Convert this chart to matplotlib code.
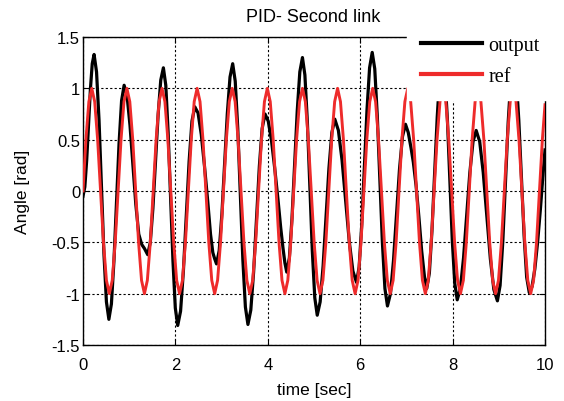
import matplotlib
matplotlib.use("Agg")
import matplotlib.pyplot as plt

# reference signal (one row per period, ~0.76 s)
t_ref = [0.0, 0.063, 0.127, 0.19, 0.253, 0.317, 0.38, 0.443, 0.507, 0.57, 0.633, 0.697,
         0.76, 0.823, 0.887, 0.95, 1.013, 1.077, 1.14, 1.203, 1.267, 1.33, 1.393, 1.457,
         1.52, 1.583, 1.647, 1.71, 1.773, 1.837, 1.9, 1.963, 2.027, 2.09, 2.153, 2.217,
         2.28, 2.343, 2.407, 2.47, 2.533, 2.597, 2.66, 2.723, 2.787, 2.85, 2.913, 2.977,
         3.04, 3.103, 3.167, 3.23, 3.293, 3.357, 3.42, 3.483, 3.547, 3.61, 3.673, 3.737,
         3.8, 3.863, 3.927, 3.99, 4.053, 4.117, 4.18, 4.243, 4.307, 4.37, 4.433, 4.497,
         4.56, 4.623, 4.687, 4.75, 4.813, 4.877, 4.94, 5.003, 5.067, 5.13, 5.193, 5.257,
         5.32, 5.383, 5.447, 5.51, 5.573, 5.637, 5.7, 5.763, 5.827, 5.89, 5.953, 6.017,
         6.08, 6.143, 6.207, 6.27, 6.333, 6.397, 6.46, 6.523, 6.587, 6.65, 6.713, 6.777,
         6.84, 6.903, 6.967, 7.03, 7.093, 7.157, 7.22, 7.283, 7.347, 7.41, 7.473, 7.537,
         7.6, 7.663, 7.727, 7.79, 7.853, 7.917, 7.98, 8.043, 8.107, 8.17, 8.233, 8.297,
         8.36, 8.423, 8.487, 8.55, 8.613, 8.677, 8.74, 8.803, 8.867, 8.93, 8.993, 9.057,
         9.12, 9.183, 9.247, 9.31, 9.373, 9.437, 9.5, 9.563, 9.627, 9.69, 9.753, 9.817,
         9.88, 9.943, 10.0]
ref = [0.0, 0.5, 0.87, 1.0, 0.87, 0.5, 0.0, -0.5, -0.87, -1.0, -0.87, -0.5,
       0.0, 0.5, 0.87, 1.0, 0.87, 0.5, 0.0, -0.5, -0.87, -1.0, -0.87, -0.5,
       0.0, 0.5, 0.87, 1.0, 0.87, 0.5, 0.0, -0.5, -0.87, -1.0, -0.87, -0.5,
       0.0, 0.5, 0.87, 1.0, 0.87, 0.5, 0.0, -0.5, -0.87, -1.0, -0.87, -0.5,
       0.0, 0.5, 0.87, 1.0, 0.87, 0.5, 0.0, -0.5, -0.87, -1.0, -0.87, -0.5,
       0.0, 0.5, 0.87, 1.0, 0.87, 0.5, 0.0, -0.5, -0.87, -1.0, -0.87, -0.5,
       0.0, 0.5, 0.87, 1.0, 0.87, 0.5, 0.0, -0.5, -0.87, -1.0, -0.87, -0.5,
       0.0, 0.5, 0.87, 1.0, 0.87, 0.5, 0.0, -0.5, -0.87, -1.0, -0.87, -0.5,
       0.0, 0.5, 0.87, 1.0, 0.87, 0.5, 0.0, -0.5, -0.87, -1.0, -0.87, -0.5,
       0.0, 0.5, 0.87, 1.0, 0.87, 0.5, 0.0, -0.5, -0.87, -1.0, -0.87, -0.5,
       0.0, 0.5, 0.87, 1.0, 0.87, 0.5, 0.0, -0.5, -0.87, -1.0, -0.87, -0.5,
       0.0, 0.5, 0.87, 1.0, 0.87, 0.5, 0.0, -0.5, -0.87, -1.0, -0.87, -0.5,
       0.0, 0.5, 0.87, 1.0, 0.87, 0.5, 0.0, -0.5, -0.87, -1.0, -0.87, -0.5,
       0.0, 0.5, 0.84]

# measured output of the second link (black curve), one row per half swing
t_out = [0.0, 0.04, 0.08, 0.12, 0.16, 0.20,
         0.24, 0.293, 0.347, 0.40, 0.453, 0.507,
         0.56, 0.615, 0.67, 0.725, 0.78, 0.835,
         0.89, 0.953, 1.017, 1.08, 1.143, 1.207, 1.27, 1.33,
         1.40, 1.457, 1.513, 1.57, 1.627, 1.683,
         1.74, 1.792, 1.843, 1.895, 1.947, 1.998,
         2.05, 2.112, 2.173, 2.235, 2.297, 2.358,
         2.42, 2.49, 2.56, 2.63, 2.70, 2.76, 2.81, 2.85,
         2.89, 2.948, 3.007, 3.065, 3.123, 3.182,
         3.24, 3.295, 3.35, 3.405, 3.46, 3.515,
         3.57, 3.632, 3.693, 3.755, 3.817, 3.878,
         3.94, 4.01, 4.08, 4.15, 4.22, 4.28, 4.33, 4.37,
         4.41, 4.467, 4.523, 4.58, 4.637, 4.693,
         4.75, 4.803, 4.857, 4.91, 4.963, 5.017,
         5.07, 5.133, 5.197, 5.26, 5.323, 5.387,
         5.45, 5.528, 5.607, 5.685, 5.763, 5.842,
         5.92, 5.977, 6.033, 6.09, 6.147, 6.203,
         6.26, 6.315, 6.37, 6.425, 6.48, 6.535,
         6.59, 6.655, 6.72, 6.785, 6.85, 6.915,
         6.98, 7.04, 7.10, 7.15, 7.21, 7.27, 7.33, 7.39,
         7.44, 7.497, 7.553, 7.61, 7.667, 7.723,
         7.78, 7.833, 7.887, 7.94, 7.993, 8.047,
         8.10, 8.168, 8.237, 8.305, 8.373, 8.442,
         8.51, 8.587, 8.663, 8.74, 8.817, 8.893,
         8.97, 9.028, 9.087, 9.145, 9.203, 9.262,
         9.32, 9.377, 9.433, 9.49, 9.547, 9.603,
         9.66, 9.72, 9.78, 9.84, 9.90, 9.95, 10.0]
out = [-0.05, 0.04, 0.30, 0.64, 0.99, 1.24,
       1.33, 1.16, 0.69, 0.04, -0.61, -1.08,
       -1.25, -1.10, -0.68, -0.11, 0.46, 0.88,
       1.03, 0.93, 0.64, 0.26, -0.13, -0.42, -0.52, -0.56,
       -0.62, -0.50, -0.17, 0.29, 0.75, 1.08,
       1.20, 1.03, 0.57, -0.06, -0.68, -1.14,
       -1.31, -1.17, -0.78, -0.25, 0.29, 0.68,
       0.82, 0.76, 0.55, 0.24, -0.10, -0.42, -0.60, -0.66,
       -0.71, -0.58, -0.22, 0.27, 0.75, 1.11,
       1.24, 1.07, 0.61, -0.03, -0.67, -1.13,
       -1.30, -1.16, -0.79, -0.28, 0.24, 0.61,
       0.75, 0.68, 0.49, 0.22, -0.08, -0.36, -0.56, -0.70,
       -0.79, -0.65, -0.27, 0.26, 0.78, 1.16,
       1.30, 1.13, 0.67, 0.05, -0.58, -1.04,
       -1.21, -1.08, -0.73, -0.26, 0.22, 0.57,
       0.70, 0.59, 0.30, -0.10, -0.49, -0.78,
       -0.89, -0.74, -0.33, 0.23, 0.79, 1.20,
       1.35, 1.19, 0.73, 0.12, -0.50, -0.95,
       -1.12, -1.00, -0.68, -0.24, 0.21, 0.53,
       0.65, 0.57, 0.42, 0.28, 0.05, -0.25, -0.58, -0.83,
       -0.95, -0.80, -0.39, 0.17, 0.72, 1.13,
       1.28, 1.12, 0.70, 0.11, -0.48, -0.90,
       -1.06, -0.95, -0.65, -0.24, 0.18, 0.48,
       0.59, 0.48, 0.18, -0.24, -0.66, -0.96,
       -1.07, -0.92, -0.49, 0.09, 0.67, 1.10,
       1.25, 1.10, 0.69, 0.13, -0.43, -0.84,
       -0.99, -0.93, -0.76, -0.50, -0.18, 0.12, 0.40]

x_ticks = [0, 2, 4, 6, 8, 10]
y_ticks = [-1.5, -1, -0.5, 0, 0.5, 1, 1.5]
y_tick_labels = ["-1.5", "-1", "-0.5", "0", "0.5", "1", "1.5"]

W, H = 564, 402
fig = plt.figure(figsize=(W / 100, H / 100), dpi=100)
ax = fig.add_axes([83 / W, 56 / H, 462 / W, 308 / H])

sans = "Liberation Sans"
serif = "Liberation Serif"

ax.plot(t_out, out, color="black", lw=2.3, label="output", zorder=3)
ax.plot(t_ref, ref, color="#ee2b2b", lw=2.1, label="ref", zorder=4)

ax.set_xlim(0, 10)
ax.set_ylim(-1.5, 1.5)
ax.set_xticks(x_ticks)
ax.set_xticklabels([str(v) for v in x_ticks], fontfamily=sans, fontsize=12)
ax.set_yticks(y_ticks)
ax.set_yticklabels(y_tick_labels, fontfamily=sans, fontsize=12)
ax.tick_params(direction="in", length=4, width=0.8, top=True, right=True)
ax.tick_params(axis="x", pad=9)
ax.tick_params(axis="y", pad=2)

ax.grid(True, color="black", linestyle=(0, (2, 2)), linewidth=0.8)
for s in ax.spines.values():
    s.set_linewidth(1.0)

ax.set_xlabel("time [sec]", fontfamily=sans, fontsize=12.5, labelpad=7)
ax.set_ylabel("Angle [rad]", fontfamily=sans, fontsize=12.5, labelpad=16)
fig.text(313 / W, 1 - 17 / H, "PID- Second link", fontfamily=sans,
         fontsize=13, ha="center", va="center")

leg = ax.legend(loc="upper left", bbox_to_anchor=(407 / W, 1 - 23 / H),
                bbox_transform=fig.transFigure, borderaxespad=0,
                prop={"family": serif, "size": 14.5},
                handlelength=3.0, handletextpad=0.35, labelspacing=0.6,
                borderpad=0.7, fancybox=False, framealpha=1)
leg.get_frame().set_edgecolor("white")
leg.get_frame().set_facecolor("white")
for ln in leg.get_lines():
    ln.set_linewidth(3)

fig.savefig("out.png", dpi=100)
